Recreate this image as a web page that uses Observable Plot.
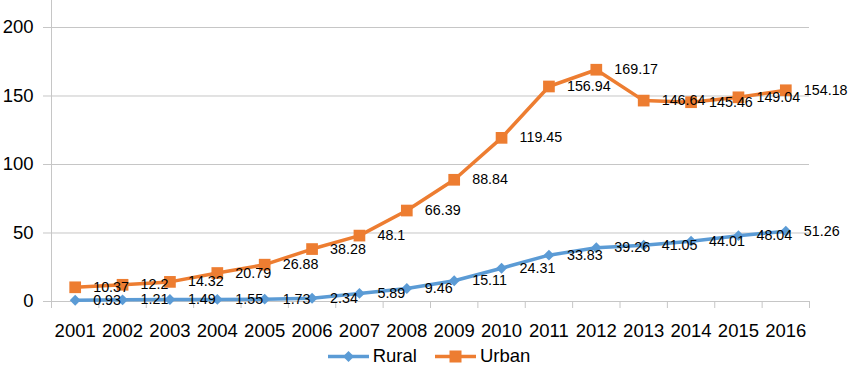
<!DOCTYPE html>
<html>
<head>
<meta charset="utf-8">
<script src="https://cdn.jsdelivr.net/npm/d3@7"></script>
<script src="https://cdn.jsdelivr.net/npm/@observablehq/plot@0.6"></script>
<style>
  html, body { margin: 0; padding: 0; background: #fff; }
  #chart { width: 850px; }
  .legend { display: flex; justify-content: center; align-items: center; height: 32px; padding-left: 8px;
            font-family: "Liberation Sans", sans-serif; font-size: 18.5px; color: #000; }
  .legend .item { display: flex; align-items: center; margin: 0 9px; }
  .legend svg { margin-right: 4px; }
</style>
</head>
<body>
<div id="chart"></div>
<script>
const years = [2001, 2002, 2003, 2004, 2005, 2006, 2007, 2008, 2009, 2010, 2011, 2012, 2013, 2014, 2015, 2016];
const rural = [0.93, 1.21, 1.49, 1.55, 1.73, 2.34, 5.89, 9.46, 15.11, 24.31, 33.83, 39.26, 41.05, 44.01, 48.04, 51.26];
const urban = [10.37, 12.2, 14.32, 20.79, 26.88, 38.28, 48.1, 66.39, 88.84, 119.45, 156.94, 169.17, 146.64, 145.46, 149.04, 154.18];
const seriesNames = ["Rural", "Urban"];
const seriesColors = ["#5B9BD5", "#ED7D31"];
const yTicks = [0, 50, 100, 150, 200];

const data = years.flatMap((yr, i) => [
  {year: yr, value: rural[i], series: "Rural"},
  {year: yr, value: urban[i], series: "Urban"}
]);
const boundaries = years.map(y => y - 0.5).concat([years[years.length - 1] + 0.5]);
const grid = "#c6c6c6";

const chart = Plot.plot({
  width: 850,
  height: 340,
  marginLeft: 51,
  marginRight: 41,
  marginTop: 0,
  marginBottom: 39,
  style: {fontFamily: "Liberation Sans, sans-serif", color: "#000", background: "#fff"},
  x: {type: "linear", domain: [boundaries[0], boundaries[boundaries.length - 1]]},
  y: {domain: [0, 219.7]},
  color: {domain: seriesNames, range: seriesColors},
  marks: [
    Plot.ruleY(yTicks, {stroke: grid, strokeWidth: 1}),
    Plot.ruleX([boundaries[0]], {stroke: grid, strokeWidth: 1}),
    Plot.axisY({ticks: yTicks, tickSize: 8, tickPadding: 10, fontSize: 18.5, stroke: grid, fill: "#000", label: null}),
    Plot.axisX({ticks: boundaries, tickSize: 7, tickFormat: () => "", stroke: grid, label: null}),
    Plot.axisX({ticks: years, tickSize: 0, tickPadding: 22, tickFormat: d => String(d), fontSize: 18.5, fill: "#000", label: null}),
    Plot.line(data, {x: "year", y: "value", z: "series", stroke: "series", strokeWidth: 3.5}),
    Plot.dot(data.filter(d => d.series === "Rural"), {x: "year", y: "value", symbol: "diamond2", r: 4.9, fill: seriesColors[0], stroke: "none"}),
    Plot.dot(data.filter(d => d.series === "Urban"), {x: "year", y: "value", symbol: "square", r: 6.6, fill: seriesColors[1], stroke: "none"}),
    Plot.text(data, {x: "year", y: "value", text: d => String(d.value), textAnchor: "start", dx: 18, fontSize: 14.3, fill: "#000"})
  ]
});
document.getElementById("chart").appendChild(chart);

// legend below the chart
const legend = document.createElement("div");
legend.className = "legend";
seriesNames.forEach((name, i) => {
  const item = document.createElement("div");
  item.className = "item";
  const sym = i === 0
    ? `<path d="M20.5,6 L26,11.5 L20.5,17 L15,11.5 Z" fill="${seriesColors[i]}"/>`
    : `<rect x="14.5" y="5.5" width="12" height="12" fill="${seriesColors[i]}"/>`;
  item.innerHTML = `<svg width="41" height="23"><line x1="0" x2="41" y1="11.5" y2="11.5" stroke="${seriesColors[i]}" stroke-width="3.5"/>${sym}</svg><span>${name}</span>`;
  legend.appendChild(item);
});
document.body.appendChild(legend);
</script>
</body>
</html>
